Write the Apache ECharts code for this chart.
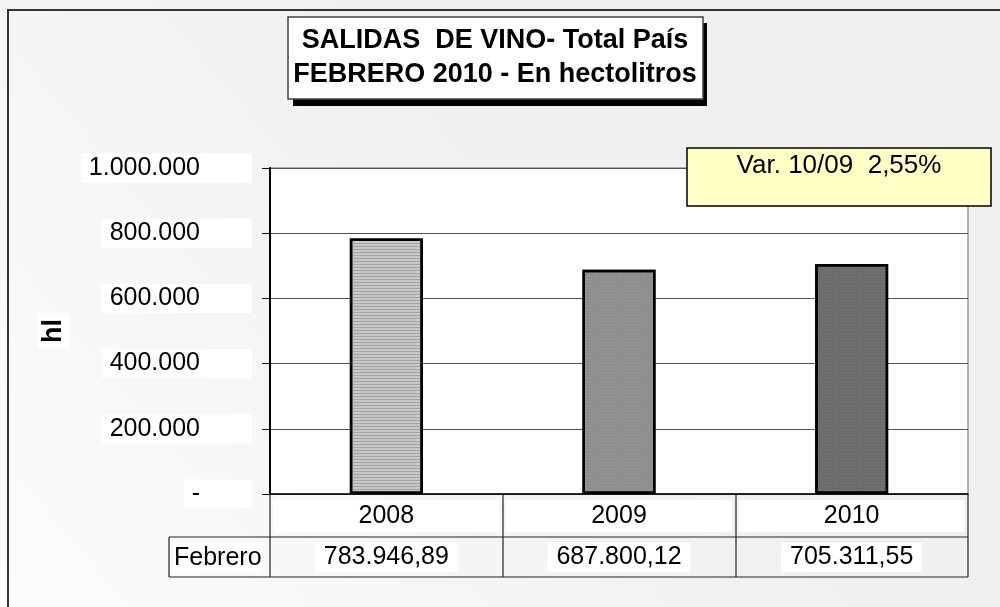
<!DOCTYPE html>
<html>
<head>
<meta charset="utf-8">
<script src="https://cdn.jsdelivr.net/npm/echarts@6/dist/echarts.min.js"></script>
<style>
html, body { margin: 0; padding: 0; background: #f0f0f0; }
#chart { width: 1000px; height: 607px; }
</style>
</head>
<body>
<div id="chart"></div>
<script>
// datos del grafico
var years = ['2008', '2009', '2010'];
var salidas = [783946.89, 687800.12, 705311.55];
var mes = 'Febrero';
var yTicks = [0, 200000, 400000, 600000, 800000, 1000000];
var titulo = ['SALIDAS  DE VINO- Total País', 'FEBRERO 2010 - En hectolitros'];

var FONT = 'Liberation Sans';

// formato 1.234.567,89
function fmt(v, dec) {
    var s = v.toFixed(dec).split('.');
    var ent = s[0].replace(/\B(?=(\d{3})+(?!\d))/g, '.');
    return dec ? ent + ',' + s[1] : ent;
}

var variacion = (salidas[2] / salidas[1] - 1) * 100;
var textoVar = 'Var. 10/09  ' + fmt(variacion, 2) + '%';

// estilos de las barras (tramas grises)
var estilos = [
    { color: '#c8c8c8', borderColor: '#000', borderWidth: 2.5,
      decal: { symbol: 'rect', symbolSize: 1, dashArrayX: [[1, 0]], dashArrayY: [1, 2], color: '#a2a2a2' } },
    { color: '#8e8e8e', borderColor: '#000', borderWidth: 2.5,
      decal: { symbol: 'rect', symbolSize: 1, dashArrayX: [1, 2], dashArrayY: [1, 2], color: '#9c9c9c' } },
    { color: '#6c6c6c', borderColor: '#000', borderWidth: 2.5,
      decal: { symbol: 'rect', symbolSize: 1, dashArrayX: [1, 2], dashArrayY: [1, 2], color: '#7a7a7a' } }
];

var myChart = echarts.init(document.getElementById('chart'));

var lineaTabla = function (x1, y1, x2, y2) {
    return { type: 'line', z: 10, silent: true,
        shape: { x1: x1, y1: y1, x2: x2, y2: y2 },
        style: { stroke: '#222', lineWidth: 1.2 } };
};

var option = {
    animation: false,
    backgroundColor: '#f0f0f0',
    textStyle: { fontFamily: FONT },
    grid: {
        left: 270, right: 32, top: 168, bottom: 113,
        show: true, backgroundColor: '#fff', borderColor: '#666', borderWidth: 1
    },
    xAxis: [{
        type: 'category',
        data: years,
        axisLine: { lineStyle: { color: '#000', width: 1.5 } },
        axisTick: { show: false },
        axisLabel: {
            interval: 0, fontSize: 25, color: '#000', fontFamily: FONT,
            backgroundColor: '#fff', width: 226, height: 32, lineHeight: 32,
            align: 'center', margin: 6
        }
    }, {
        type: 'category',
        position: 'bottom',
        offset: 43,
        data: salidas.map(function (v) { return fmt(v, 2); }),
        axisLine: { show: false },
        axisTick: { show: false },
        axisLabel: {
            interval: 0, fontSize: 25, color: '#000', fontFamily: FONT,
            backgroundColor: '#fff', padding: [2, 9, 2, 9], lineHeight: 25, margin: 6
        }
    }],
    yAxis: {
        type: 'value',
        min: yTicks[0],
        max: yTicks[yTicks.length - 1],
        interval: yTicks[1] - yTicks[0],
        name: 'hl',
        nameLocation: 'middle',
        nameGap: 199,
        nameTextStyle: {
            fontSize: 27, fontWeight: 'bold', color: '#000', fontFamily: FONT,
            backgroundColor: '#fff', padding: [3, 6, 3, 6]
        },
        axisLine: { show: true, lineStyle: { color: '#000', width: 2 } },
        axisTick: { show: true, length: 8, lineStyle: { color: '#000' } },
        axisLabel: {
            fontSize: 25, color: '#000', fontFamily: FONT,
            backgroundColor: '#fff', padding: [4, 52, 3, 8], lineHeight: 22, margin: 18,
            formatter: function (v) { return v === 0 ? '-' : fmt(v, 0); }
        },
        splitLine: { lineStyle: { color: '#555', width: 1 } }
    },
    series: [{
        name: mes,
        type: 'bar',
        barWidth: 73,
        data: salidas.map(function (v, i) { return { value: v, itemStyle: estilos[i] }; })
    }],
    graphic: [
        // fondo con degradado suave
        { type: 'rect', z: -1, silent: true,
          shape: { x: 0, y: 0, width: 1000, height: 607 },
          style: { fill: { type: 'linear', x: 0, y: 1, x2: 0.5, y2: 0.3,
              colorStops: [{ offset: 0, color: '#fcfcfc' }, { offset: 1, color: '#f0f0f0' }] } } },
        // borde exterior
        { type: 'rect', z: 10, silent: true,
          shape: { x: 8, y: 10, width: 1010, height: 620 },
          style: { fill: 'none', stroke: '#333', lineWidth: 2 } },
        // titulo
        { type: 'rect', z: 10, silent: true,
          shape: { x: 293, y: 23, width: 414, height: 83 }, style: { fill: '#000' } },
        { type: 'rect', z: 11, silent: true,
          shape: { x: 288, y: 17, width: 415, height: 82 },
          style: { fill: '#fff', stroke: '#444', lineWidth: 1.5 } },
        { type: 'text', z: 12, x: 495, y: 41,
          style: { text: titulo[0], font: 'bold 27px "' + FONT + '"', fill: '#000', align: 'center', verticalAlign: 'middle' } },
        { type: 'text', z: 12, x: 495, y: 75,
          style: { text: titulo[1], font: 'bold 27px "' + FONT + '"', fill: '#000', align: 'center', verticalAlign: 'middle' } },
        // caja de variacion
        { type: 'rect', z: 11, silent: true,
          shape: { x: 687, y: 148, width: 304, height: 58 },
          style: { fill: '#ffffc6', stroke: '#000', lineWidth: 1.5 } },
        { type: 'text', z: 12, x: 839, y: 166,
          style: { text: textoVar, font: '26px "' + FONT + '"', fill: '#000', align: 'center', verticalAlign: 'middle' } },
        // tabla de datos
        lineaTabla(169, 537, 968, 537),
        lineaTabla(169, 577, 968, 577),
        lineaTabla(169, 537, 169, 577),
        lineaTabla(270, 494, 270, 577),
        lineaTabla(503, 494, 503, 577),
        lineaTabla(736, 494, 736, 577),
        lineaTabla(968, 494, 968, 577),
        { type: 'text', z: 12, x: 173, y: 558,
          style: { text: mes, font: '25px "' + FONT + '"', fill: '#000', align: 'left', verticalAlign: 'middle',
                   backgroundColor: '#fff', padding: [3, 1, 2, 1] } }
    ]
};

myChart.setOption(option);
</script>
</body>
</html>
